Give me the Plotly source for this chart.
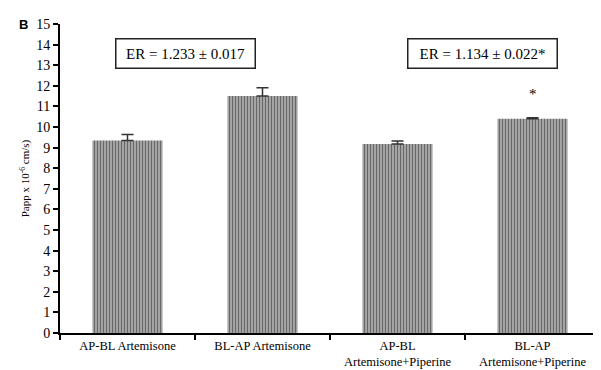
import plotly.graph_objects as go

categories = ["AP-BL Artemisone", "BL-AP Artemisone",
              "AP-BL<br>Artemisone+Piperine", "BL-AP<br>Artemisone+Piperine"]
papp = [9.35, 11.5, 9.18, 10.4]
sd = [0.28, 0.4, 0.14, 0.05]
y_ticks = list(range(0, 16))

serif = "Liberation Serif, Times New Roman, serif"

fig = go.Figure()
fig.add_trace(go.Bar(
    x=categories, y=papp, width=0.52,
    marker=dict(color="#a8a8a8", line=dict(width=0),
                pattern=dict(shape="|", fgcolor="#151515", bgcolor="#b8b8b8",
                             size=3, solidity=0.5)),
    error_y=dict(type="data", array=sd, symmetric=False, arrayminus=[0]*4,
                 color="#333333", thickness=1.5, width=6),
))

fig.update_layout(
    width=601, height=370,
    margin=dict(l=52, r=9, t=16, b=36),
    plot_bgcolor="white", paper_bgcolor="white",
    showlegend=False,
    font=dict(family=serif, size=12, color="black"),
)
fig.update_xaxes(
    showline=True, linecolor="black", linewidth=2,
    ticks="outside", tickson="boundaries", ticklen=5, tickcolor="black", tickwidth=2,
    showgrid=False, tickfont=dict(family=serif, size=12.5),
)
fig.update_yaxes(
    range=[0, 15], tickvals=y_ticks, showline=True, linecolor="black", linewidth=2,
    ticks="outside", ticklen=5, tickcolor="black", tickwidth=2, showgrid=False,
    zeroline=False, tickfont=dict(family=serif, size=14),
    title=dict(text="Papp x 10<sup>-6</sup> cm/s)", font=dict(family=serif, size=11), standoff=4),
)

fig.add_annotation(x=0.43, y=13.55, xref="x", yref="y", text="ER = 1.233 ± 0.017",
                   showarrow=False, font=dict(family=serif, size=15),
                   width=136, height=26, borderpad=1,
                   bordercolor="#222222", borderwidth=1.5, bgcolor="white")
fig.add_annotation(x=2.63, y=13.55, xref="x", yref="y", text="ER = 1.134 ± 0.022*",
                   showarrow=False, font=dict(family=serif, size=15),
                   width=146, height=26, borderpad=1,
                   bordercolor="#222222", borderwidth=1.5, bgcolor="white")
fig.add_annotation(x=3, y=11.6, xref="x", yref="y", text="*", showarrow=False,
                   font=dict(family=serif, size=15))
fig.add_annotation(x=-0.068, y=1.0, xref="paper", yref="paper", text="<b>B</b>",
                   xanchor="center", yanchor="middle",
                   showarrow=False, font=dict(family="Liberation Sans, Arial", size=13))

fig.write_html("out.html")
